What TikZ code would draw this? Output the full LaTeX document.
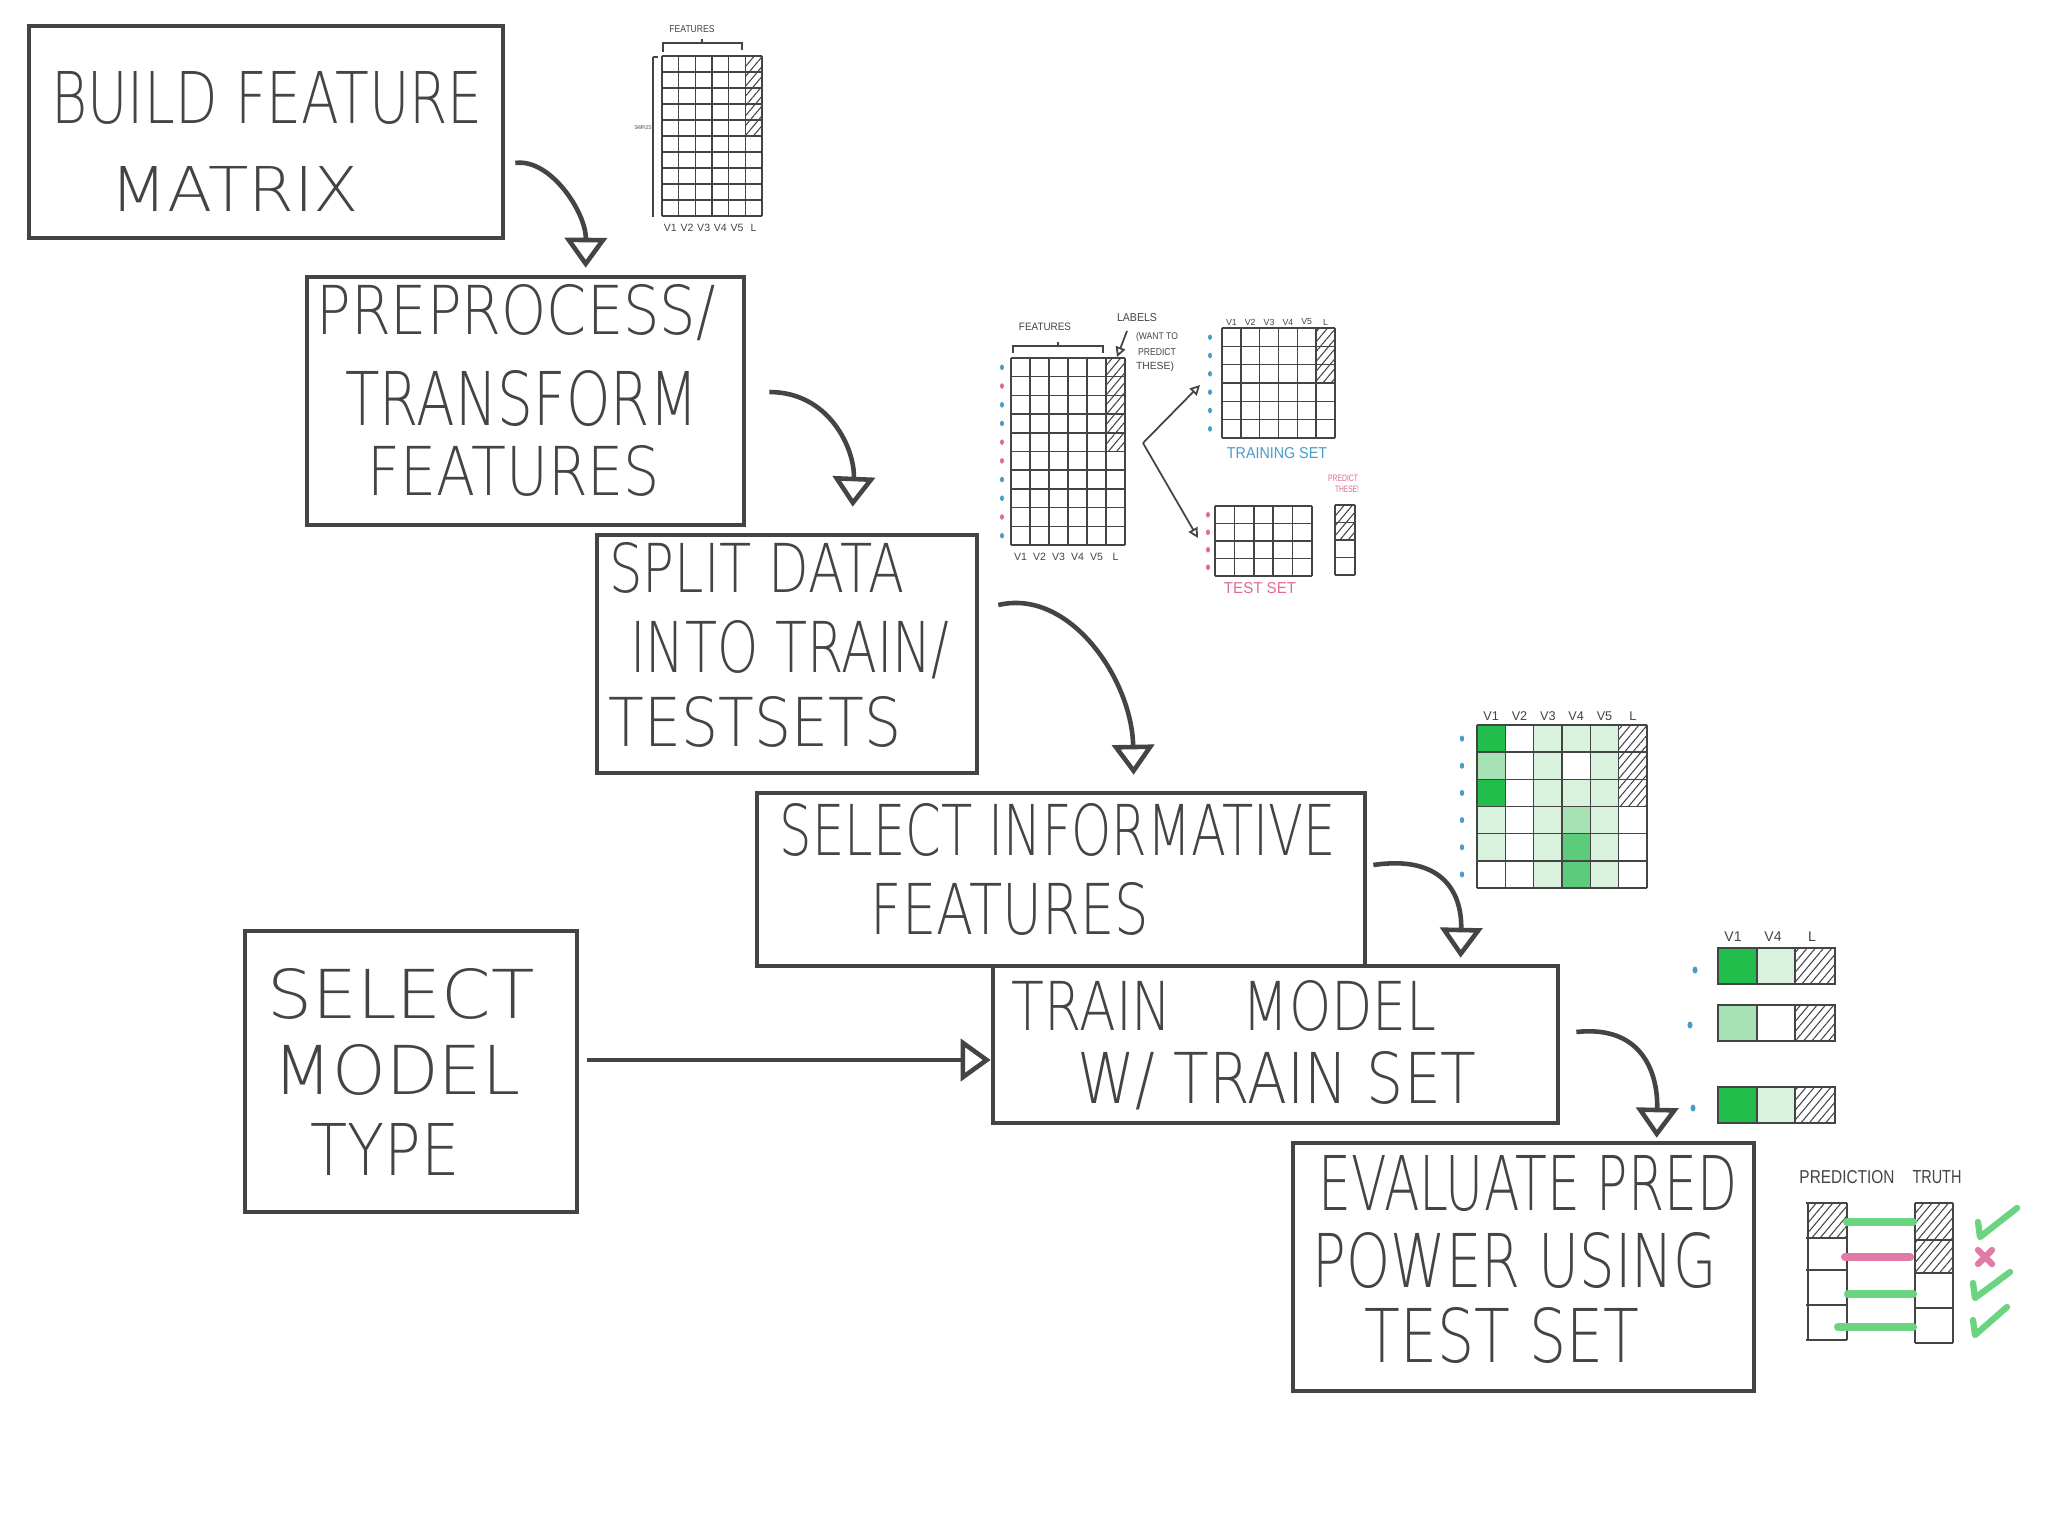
\documentclass[tikz,border=0pt]{standalone}
\usepackage{fontspec}
\setmainfont{Liberation Sans}
\newfontfamily\handfont{DejaVu Sans}[UprightFont={* ExtraLight}]
\usepackage{graphicx}
\usetikzlibrary{arrows.meta,calc,patterns.meta}
\definecolor{ink}{HTML}{444444}
\definecolor{dotblue}{HTML}{4A9CC8}
\definecolor{dotpink}{HTML}{E06A95}
\definecolor{gA}{HTML}{D9F2DE}
\definecolor{gB}{HTML}{A6E2B4}
\definecolor{gC}{HTML}{5CCB7C}
\definecolor{gD}{HTML}{22BE4C}
\definecolor{okgreen}{HTML}{6BD480}
\definecolor{badpink}{HTML}{E07AA6}
\newcommand\hw[3]{\resizebox{#1cm}{#2cm}{#3}}
\newcommand\hb[3]{\resizebox{#1cm}{#2cm}{\handfont #3}}
\newcommand\mgrid[6]{%
  \foreach \ii in {0,...,#3} \draw[gridl] ({#1+\ii*#5},#2) -- ({#1+\ii*#5},{#2+#4*#6});
  \foreach \jj in {0,...,#4} \draw[gridl] (#1,{#2+\jj*#6}) -- ({#1+#3*#5},{#2+\jj*#6});}
\tikzset{
  box/.style={draw=ink, line width=1.25pt, rectangle, inner sep=0pt},
  lbl/.style={inner sep=0pt, text=ink},
  tinyl/.style={inner sep=0pt, text=ink, font=\fontsize{3}{3.5}\selectfont},
  flow/.style={draw=ink, line width=1.3pt, -{Triangle[open, width=0.42cm, length=0.3cm]}},
  thinflow/.style={draw=ink, line width=0.5pt, -{Triangle[open, width=0.1cm, length=0.1cm]}},
  gridl/.style={draw=ink, line width=0.45pt},
  hatch/.style={pattern={Lines[angle=50,distance=1.8pt,line width=0.3pt]}, pattern color=ink},
  okline/.style={draw=okgreen, line width=2.3pt, line cap=round},
  badline/.style={draw=badpink, line width=2.3pt, line cap=round},
  tick/.style={draw=okgreen, line width=1.8pt, line cap=round, line join=round},
}
\begin{document}
\begin{tikzpicture}[x=0.01cm,y=-0.01cm]
\useasboundingbox (0,0) rectangle (2048,1536);
\fill[white] (0,0) rectangle (2048,1536);

% ---------------- main boxes ----------------
\node[box, minimum width=4.74cm, minimum height=2.12cm] (b1) at (266,132) {};
\node[lbl] (b1a) at (267,98) {\hb{4.31}{0.52}{BUILD FEATURE}};
\node[lbl] (b1b) at (235,189) {\hb{2.48}{0.45}{MATRIX}};

\node[box, minimum width=4.37cm, minimum height=2.48cm] (b2) at (525.5,401) {};
\node[lbl] (b2a) at (516,313) {\hb{3.99}{0.5}{PREPROCESS/}};
\node[lbl] (b2b) at (522,399) {\hb{3.53}{0.55}{TRANSFORM}};
\node[lbl] (b2c) at (514,471) {\hb{2.92}{0.5}{FEATURES}};

\node[box, minimum width=3.80cm, minimum height=2.38cm] (b3) at (787,654) {};
\node[lbl] (b3a) at (757,568) {\hb{2.95}{0.5}{SPLIT DATA}};
\node[lbl] (b3b) at (790,650) {\hb{3.19}{0.52}{INTO TRAIN/}};
\node[lbl] (b3c) at (755,722) {\hb{2.92}{0.5}{TESTSETS}};

\node[box, minimum width=6.08cm, minimum height=1.73cm] (b4) at (1061,879.5) {};
\node[lbl] (b4a) at (1058,830) {\hb{5.56}{0.52}{SELECT INFORMATIVE}};
\node[lbl] (b4b) at (1010,909) {\hb{2.78}{0.52}{FEATURES}};

\node[box, minimum width=3.32cm, minimum height=2.81cm] (b5) at (411,1071.5) {};
\node[lbl] (b5a) at (401,994) {\hb{2.67}{0.5}{SELECT}};
\node[lbl] (b5b) at (397,1070) {\hb{2.46}{0.5}{MODEL}};
\node[lbl] (b5c) at (385,1149) {\hb{1.49}{0.52}{TYPE}};

\node[box, minimum width=5.65cm, minimum height=1.57cm] (b6) at (1275.5,1044.5) {};
\node[lbl] (b6a) at (1224,1006) {\hb{4.25}{0.5}{TRAIN \quad MODEL}};
\node[lbl] (b6b) at (1277,1081) {\hb{3.99}{0.52}{W/ TRAIN SET}};

\node[box, minimum width=4.61cm, minimum height=2.48cm] (b7) at (1523.5,1267) {};
\node[lbl] (b7a) at (1528,1184) {\hb{4.18}{0.55}{EVALUATE PRED}};
\node[lbl] (b7b) at (1515,1260) {\hb{4.04}{0.55}{POWER USING}};
\node[lbl] (b7c) at (1502,1335) {\hb{2.74}{0.55}{TEST SET}};

% ---------------- flow arrows ----------------
\draw[flow] ($(b1.east)+(10,31)$) .. controls (550,158) and (586,212) .. ($(b2.north west)+(281,-7)$);
\draw[flow] ($(b2.east)+(23,-9)$) .. controls (830,392) and (855,450) .. ($(b3.north west)+(258,-26)$);
\draw[flow] ($(b3.east)+(19,-49)$) .. controls (1070,588) and (1132,680) .. ($(b4.north west)+(379,-16)$);
\draw[flow] ($(b4.east)+(6,-14.5)$) .. controls (1440,855) and (1462,890) .. ($(b6.north west)+(470,-6)$);
\draw[flow] ($(b6.east)+(16,-12.5)$) .. controls (1640,1025) and (1658,1070) .. ($(b7.north west)+(366,-3)$);
\coordinate (a6s) at ($(b5.east)+(8,-11.5)$);
\draw[flow] (a6s) -- (a6s -| b6.west);

% ---------------- feature matrix (top) ----------------
\path[hatch] (745.33,56) rectangle (762,136);
\mgrid{662}{56}{6}{10}{16.667}{16}
\draw[gridl] (653,57) -- (653,217);
\draw[gridl] (653,57) -- (658,57);
\draw[gridl] (663,52) -- (663,43) -- (742,43) -- (742,50);
\draw[gridl] (702,43) -- (702,39);
\node[tinyl] (m1f) at (692,29) {\hw{0.45}{0.07}{FEATURES}};
\node[tinyl] (m1s) at (643,128) {\hw{0.17}{0.04}{SAMPLES}};
\foreach \lab [count=\k] in {V1,V2,V3,V4,V5,L}
  \node[tinyl] (m1c\k) at ({662+(\k-0.5)*16.667},228) {\lab};

% ---------------- split figure ----------------
\path[hatch] (1106,358) rectangle (1125,451.5);
\mgrid{1011}{358}{6}{10}{19}{18.7}
\foreach \c [count=\k] in {dotblue,dotpink,dotblue,dotblue,dotpink,dotpink,dotblue,dotblue,dotpink,dotblue}
  \fill[\c] (1002,{358+(\k-0.5)*18.7}) ellipse (2 and 2.8);
\draw[gridl] (1013,353) -- (1013,346) -- (1103,346) -- (1103,353);
\draw[gridl] (1058,346) -- (1058,342);
\node[tinyl] (m2f) at (1045,327) {\hw{0.52}{0.075}{FEATURES}};
\node[tinyl] (m2l) at (1137,318) {\hw{0.4}{0.08}{LABELS}};
\node[tinyl] (m2w1) at (1157,337) {\hw{0.42}{0.07}{(WANT TO}};
\node[tinyl] (m2w2) at (1157,352) {\hw{0.38}{0.07}{PREDICT}};
\node[tinyl] (m2w3) at (1155,367) {\hw{0.38}{0.075}{THESE)}};
\coordinate (lbs) at (1127,331);
\coordinate (lbe) at (1117,357);
\draw[thinflow] (lbs) -- (lbe);
\foreach \lab [count=\k] in {V1,V2,V3,V4,V5,L}
  \node[tinyl] (m2c\k) at ({1011+(\k-0.5)*19},557) {\lab};
\coordinate (sp) at (1143,443);
\coordinate (spT) at (1200,385);
\coordinate (spB) at (1198,538);
\draw[thinflow] (sp) -- (spT);
\draw[thinflow] (sp) -- (spB);

% training set
\path[hatch] (1316.17,328) rectangle (1335,383);
\mgrid{1222}{328}{6}{6}{18.83}{18.33}
\foreach \k in {1,...,6} \fill[dotblue] (1210,{328+(\k-0.5)*18.33}) ellipse (2 and 2.8);
\foreach \lab [count=\k] in {V1,V2,V3,V4,V5,L}
  \node[tinyl] (m3c\k) at ({1222+(\k-0.5)*18.83},322) {\fontsize{2.5}{3}\selectfont\lab};
\node[inner sep=0pt, text=dotblue] (m3t) at (1277,453) {\hw{1.0}{0.11}{TRAINING SET}};

% test set
\mgrid{1215}{506}{5}{4}{19.4}{17.5}
\foreach \k in {1,...,4} \fill[dotpink] (1208,{506+(\k-0.5)*17.5}) ellipse (2 and 2.8);
\node[inner sep=0pt, text=dotpink] (m4t) at (1260,588) {\hw{0.72}{0.11}{TEST SET}};
\path[hatch] (1335,505) rectangle (1355,540);
\mgrid{1335}{505}{1}{4}{20}{17.5}
\node[inner sep=0pt, text=dotpink] (m4p1) at (1343,478) {\hw{0.3}{0.065}{PREDICT}};
\node[inner sep=0pt, text=dotpink] (m4p2) at (1347,489) {\hw{0.24}{0.065}{THESE!}};

% ---------------- green feature matrix ----------------
\foreach \r/\c/\f in {1/1/gD,1/3/gA,1/4/gA,1/5/gA,
                      2/1/gB,2/3/gA,2/5/gA,
                      3/1/gD,3/3/gA,3/4/gA,3/5/gA,
                      4/1/gA,4/3/gA,4/4/gB,4/5/gA,
                      5/1/gA,5/3/gA,5/4/gC,5/5/gA,
                      6/3/gA,6/4/gC,6/5/gA}
  \fill[\f] ({1477+(\c-1)*28.33},{725+(\r-1)*27.17}) rectangle ++(28.33,27.17);
\path[hatch] (1618.67,725) rectangle (1647,806.5);
\mgrid{1477}{725}{6}{6}{28.33}{27.17}
\foreach \k in {1,...,6} \fill[dotblue] (1462,{725+(\k-0.5)*27.17}) ellipse (2.2 and 3);
\foreach \lab [count=\k] in {V1,V2,V3,V4,V5,L}
  \node[tinyl] (m5c\k) at ({1477+(\k-0.5)*28.33},716) {\fontsize{3.6}{4}\selectfont\lab};

% ---------------- training bars ----------------
\foreach \y/\fa/\fb [count=\k] in {948/gD/gA, 1005/gB/white, 1087/gD/gA} {
  \fill[\fa] (1718,\y) rectangle ++(39,36);
  \fill[\fb] (1757,\y) rectangle ++(38,36);
  \path[hatch] (1795,\y) rectangle ++(40,36);
  \draw[gridl, line width=0.7pt] (1718,\y) rectangle ++(117,36);
  \draw[gridl, line width=0.7pt] (1757,\y) -- ++(0,36);
  \draw[gridl, line width=0.7pt] (1795,\y) -- ++(0,36);
}
\fill[dotblue] (1695,970) ellipse (2.5 and 3.5);
\fill[dotblue] (1690,1025) ellipse (2.5 and 3.5);
\fill[dotblue] (1693,1108) ellipse (2.5 and 3.5);
\node[tinyl] (m6c1) at (1733,937) {\fontsize{4}{4.5}\selectfont V1};
\node[tinyl] (m6c2) at (1773,937) {\fontsize{4}{4.5}\selectfont V4};
\node[tinyl] (m6c3) at (1812,937) {\fontsize{4}{4.5}\selectfont L};

% ---------------- evaluation ----------------
\node[inner sep=0pt, text=ink] (evp) at (1847,1177) {\hw{0.95}{0.13}{PREDICTION}};
\node[inner sep=0pt, text=ink] (evt) at (1937,1177) {\hw{0.49}{0.13}{TRUTH}};
\path[hatch] (1808,1203) rectangle (1847,1238);
\draw[gridl] (1808,1203) -- (1808,1340);
\draw[gridl] (1847,1203) -- (1847,1340);
\foreach \y in {1203,1238,1270,1305,1340} \draw[gridl] (1806,\y) -- (1847,\y);
\path[hatch] (1915,1203) rectangle (1953,1273);
\draw[gridl] (1915,1203) -- (1915,1343);
\draw[gridl] (1953,1203) -- (1953,1343);
\foreach \y in {1203,1240,1273,1308,1343} \draw[gridl] (1915,\y) -- (1953,\y);
\draw[okline] (1847,1222) -- (1913,1222);
\draw[badline] (1845,1257) -- (1910,1257);
\draw[okline] (1848,1294) -- (1913,1294);
\draw[okline] (1838,1327) -- (1913,1327);
\draw[tick] (1978,1222) -- (1980,1237) -- (2017,1208);
\draw[badline, line width=1.8pt] (1978,1250) -- (1992,1264);
\draw[badline, line width=1.8pt] (1992,1250) -- (1978,1264);
\draw[tick] (1973,1283) -- (1975,1298) -- (2010,1272);
\draw[tick] (1973,1320) -- (1975,1335) -- (2007,1307);
\end{tikzpicture}
\end{document}
